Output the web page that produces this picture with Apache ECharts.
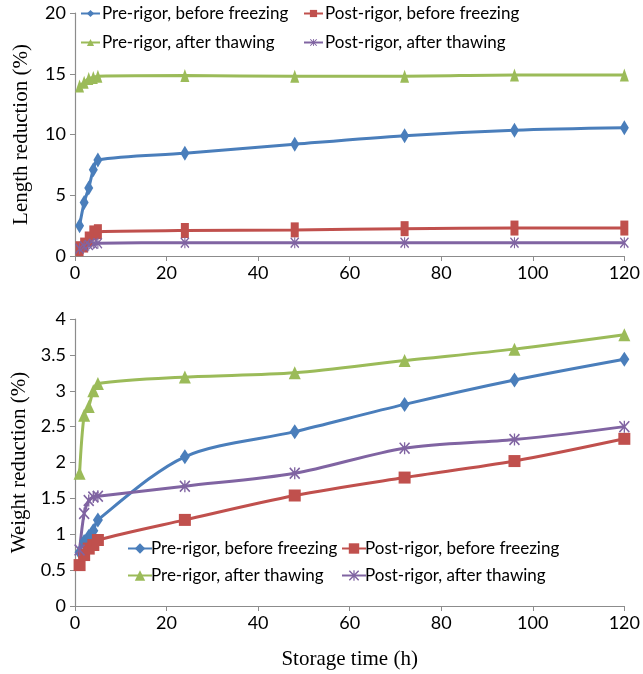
<html>
<head>
<meta charset="UTF-8">
<script src="https://cdn.jsdelivr.net/npm/echarts@6/dist/echarts.min.js"></script>
<style>
  html, body { margin:0; padding:0; background:#fff; }
  #main { width:643px; height:674px; }
</style>
</head>
<body>
<div id="main"></div>
<script type="text/javascript">
// storage time (h)
var hours = [1, 2, 3, 4, 5, 24, 48, 72, 96, 120];
var seriesNames = ['Pre-rigor, before freezing', 'Post-rigor, before freezing', 'Pre-rigor, after thawing', 'Post-rigor, after thawing'];

// length reduction (%)
var lenPreBefore  = [2.5, 4.4, 5.6, 7.1, 7.9, 8.45, 9.2, 9.9, 10.35, 10.55];
var lenPostBefore = [0.6, 0.9, 1.4, 1.9, 2.0, 2.1, 2.15, 2.25, 2.3, 2.3];
var lenPreThaw    = [14.0, 14.3, 14.6, 14.7, 14.8, 14.85, 14.8, 14.8, 14.9, 14.9];
var lenPostThaw   = [0.6, 0.8, 0.9, 1.0, 1.05, 1.1, 1.1, 1.1, 1.1, 1.1];

// weight reduction (%)
var wPreBefore  = [0.75, 0.9, 0.97, 1.05, 1.2, 2.08, 2.43, 2.81, 3.15, 3.44];
var wPostBefore = [0.57, 0.71, 0.8, 0.85, 0.92, 1.2, 1.54, 1.79, 2.02, 2.33];
var wPreThaw    = [1.85, 2.66, 2.78, 3.0, 3.1, 3.19, 3.25, 3.42, 3.58, 3.78];
var wPostThaw   = [0.78, 1.29, 1.47, 1.52, 1.53, 1.67, 1.85, 2.2, 2.32, 2.5];

var xTicks = [0, 20, 40, 60, 80, 100, 120];

var colors = ['#4A7EBB', '#C0504D', '#9BBB59', '#8064A2'];
var starPath = 'path://M1,0 L5,4 L9,0 L10,1 L6,5 L10,9 L9,10 L5,6 L1,10 L0,9 L4,5 L0,1 Z M4.4,0 L5.6,0 L5.6,10 L4.4,10 Z';
var symbols = ['diamond', 'rect', 'triangle', starPath];

var sansFont = 'Lato';
var serifFont = 'Liberation Serif';
var axisGray = '#8c8c8c';

function pairs(ys) {
  var res = [];
  for (var i = 0; i < hours.length; i++) res.push([hours[i], ys[i]]);
  return res;
}

function makeSeries(idx, data, gridIdx, sizes) {
  return {
    name: seriesNames[idx] + (gridIdx ? ' ' : ''),
    type: 'line',
    xAxisIndex: gridIdx,
    yAxisIndex: gridIdx,
    data: pairs(data),
    smooth: 0.3,
    symbol: symbols[idx],
    symbolSize: sizes[idx],
    showAllSymbol: true,
    lineStyle: { color: colors[idx], width: 3 },
    itemStyle: { color: colors[idx], borderWidth: 0 },
    emphasis: { disabled: true },
    animation: false
  };
}

var topSizes = [[9, 15], [8, 15], [9, 13], [9, 11]];
var botSizes = [[10, 15], [12, 12], [12, 13], [11, 12]];

function makeLegend(name, left, top, iconW, iconH, textShift) {
  return {
    data: [name],
    left: left, top: top,
    padding: 0,
    itemWidth: iconW, itemHeight: iconH,
    itemGap: 0,
    selectedMode: false,
    textStyle: { fontFamily: sansFont, fontSize: 17, color: '#000', padding: [0, 0, 0, textShift] }
  };
}

function yAxisCfg(gridIdx, max, interval, name) {
  return {
    gridIndex: gridIdx, type: 'value', min: 0, max: max, interval: interval,
    name: name, nameLocation: 'middle', nameGap: 43,
    nameTextStyle: { fontFamily: serifFont, fontSize: 21, color: '#000' },
    axisLine: { show: true, lineStyle: { color: axisGray, width: 1.2 } },
    axisTick: { show: true, length: 5, lineStyle: { color: axisGray } },
    axisLabel: { fontFamily: sansFont, fontSize: 18, color: '#000', margin: 9 },
    splitLine: { show: false }
  };
}

function xAxisCfg(gridIdx, withName) {
  return {
    gridIndex: gridIdx, type: 'value', min: 0, max: 120, interval: 20,
    name: withName ? 'Storage time (h)' : '', nameLocation: 'middle', nameGap: 43,
    nameTextStyle: { fontFamily: serifFont, fontSize: 21, color: '#000' },
    axisLine: { show: true, onZero: false, lineStyle: { color: axisGray, width: 1.2 } },
    axisTick: { show: true, length: 5, lineStyle: { color: axisGray } },
    axisLabel: { fontFamily: sansFont, fontSize: 18, color: '#000', margin: 8,
      customValues: xTicks },
    splitLine: { show: false }
  };
}

var option = {
  backgroundColor: '#fff',
  grid: [
    { left: 75, right: 15, top: 13, height: 243 },
    { left: 75, right: 15, top: 319, height: 287 }
  ],
  xAxis: [xAxisCfg(0, false), xAxisCfg(1, true)],
  yAxis: [
    yAxisCfg(0, 20, 5, 'Length reduction (%)'),
    yAxisCfg(1, 4, 0.5, 'Weight reduction (%)')
  ],
  legend: [],
  series: [
    makeSeries(0, lenPreBefore, 0, topSizes),
    makeSeries(1, lenPostBefore, 0, topSizes),
    makeSeries(2, lenPreThaw, 0, topSizes),
    makeSeries(3, lenPostThaw, 0, topSizes),
    makeSeries(0, wPreBefore, 1, botSizes),
    makeSeries(1, wPostBefore, 1, botSizes),
    makeSeries(2, wPreThaw, 1, botSizes),
    makeSeries(3, wPostThaw, 1, botSizes)
  ]
};

// legends: top chart (short icons), bottom chart (long icons)
var topLeg = [[80, 5], [303, 5], [80, 34], [303, 34]];
var botLeg = [[127, 540], [341, 540], [127, 567], [341, 567]];
for (var i = 0; i < 4; i++) {
  option.legend.push(makeLegend(seriesNames[i], topLeg[i][0], topLeg[i][1], 19, 9, -3));
  option.legend.push(makeLegend(seriesNames[i] + ' ', botLeg[i][0], botLeg[i][1], 24, 13, -6));
}

var chart = echarts.init(document.getElementById('main'), null, { renderer: 'canvas' });
chart.setOption(option);
</script>
</body>
</html>
